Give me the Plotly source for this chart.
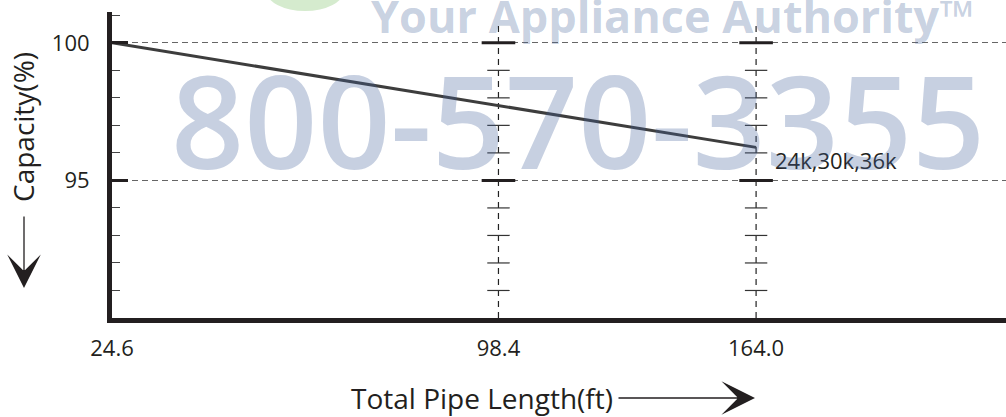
import plotly.graph_objects as go

# Pipe-length ticks (ft) and their slot on the schematic x axis
pipe_length_labels = ["24.6", "98.4", "164.0"]
pipe_length_slots = [0, 3, 5]

# Capacity correction for the 24k/30k/36k models
line_lengths = ["24.6", "164.0"]
capacity_pct = [100.0, 96.2]
series_label = "24k,30k,36k"

# Capacity ticks (%)
major_capacity = [95, 100]
minor_capacity = [91, 92, 93, 94, 96, 97, 98, 99]

INK = "#231f20"
FONT = "Open Sans"
MARK = "rgba(70,100,155,0.30)"
W, H = 1006, 417
M_L, M_R, M_T, M_B = 112, 0, 12, 99
PW, PH = W - M_L - M_R, H - M_T - M_B


def px_x(px):
    return (px - M_L) / PW


def px_y(py):
    return (H - M_B - py) / PH


slot_of = dict(zip(pipe_length_labels, pipe_length_slots))
line_x = [slot_of[v] for v in line_lengths]
grid_slots = [s for s in pipe_length_slots if s != 0]

fig = go.Figure()

# vertical dashed guides at the marked pipe lengths
for s in grid_slots:
    fig.add_shape(type="line", xref="x", yref="y", x0=s, x1=s, y0=90, y1=100.65,
                  line=dict(color="#222222", width=1.2, dash="6px,5px"), layer="below")

# small cross ticks along each vertical guide
fig.add_trace(go.Scatter(
    x=[s for s in grid_slots for _ in minor_capacity],
    y=[c for _ in grid_slots for c in minor_capacity],
    mode="markers", hoverinfo="skip", showlegend=False,
    marker=dict(symbol="line-ew", size=16, line=dict(width=1.2, color="#333333")),
))
fig.add_trace(go.Scatter(
    x=[s for s in grid_slots for _ in major_capacity],
    y=[c for _ in grid_slots for c in major_capacity],
    mode="markers", hoverinfo="skip", showlegend=False,
    marker=dict(symbol="line-ew", size=24, line=dict(width=3, color=INK)),
))

# capacity line
fig.add_trace(go.Scatter(
    x=line_x, y=capacity_pct, mode="lines", showlegend=False,
    line=dict(color="#3d3d3d", width=3),
))

fig.add_annotation(x=line_x[-1], y=capacity_pct[-1], xref="x", yref="y",
                   text=series_label, showarrow=False, xanchor="left", yanchor="middle",
                   xshift=17, yshift=-13, font=dict(family=FONT, size=22, color=INK))

# axis titles with arrows
fig.add_annotation(x=px_x(23), y=px_y(127), xref="paper", yref="paper",
                   text="Capacity(%)", textangle=-90, showarrow=False,
                   xanchor="center", yanchor="middle",
                   font=dict(family=FONT, size=28, color=INK))
fig.add_annotation(x=px_x(24), y=px_y(288), xref="paper", yref="paper",
                   text="", showarrow=True, ax=0, ay=-73, arrowhead=3,
                   arrowsize=4.3, arrowwidth=1.3, arrowcolor=INK)
fig.add_annotation(x=px_x(482), y=px_y(398), xref="paper", yref="paper",
                   text="Total Pipe Length(ft)", showarrow=False,
                   xanchor="center", yanchor="middle",
                   font=dict(family=FONT, size=28, color=INK))
fig.add_annotation(x=px_x(755), y=px_y(398), xref="paper", yref="paper",
                   text="", showarrow=True, ax=-138, ay=0, arrowhead=3,
                   arrowsize=4.3, arrowwidth=1.3, arrowcolor=INK)

# watermark
fig.add_shape(type="circle", xref="paper", yref="paper",
              x0=px_x(266), x1=px_x(344), y0=px_y(11), y1=px_y(-30),
              fillcolor="#d5ebce", line=dict(width=0), layer="above")
fig.add_annotation(x=px_x(672), y=px_y(16), xref="paper", yref="paper",
                   text="<b>Your Appliance Authority™</b>", showarrow=False,
                   xanchor="center", yanchor="middle",
                   font=dict(family=FONT, size=45, color=MARK))
fig.add_annotation(x=px_x(578), y=px_y(120), xref="paper", yref="paper",
                   text="800-570-3355", showarrow=False,
                   xanchor="center", yanchor="middle",
                   font=dict(family=FONT, size=128, weight=600, color=MARK))

fig.update_layout(
    width=W, height=H,
    margin=dict(l=M_L, r=M_R, t=M_T, b=M_B, pad=0),
    paper_bgcolor="white", plot_bgcolor="white",
    font=dict(family=FONT, size=22, color=INK),
    xaxis=dict(range=[0, 6.94], tickvals=pipe_length_slots, ticktext=pipe_length_labels,
               showgrid=False, zeroline=False, ticks="", showline=True,
               linewidth=5, linecolor=INK, tickfont=dict(size=22, color=INK),
               ticklabelstandoff=7),
    yaxis=dict(range=[90, 101.12], tickvals=major_capacity, ticks="inside",
               ticklen=16, tickwidth=3, tickcolor=INK, showgrid=True,
               gridcolor="#666666", gridwidth=1, griddash="6px,4px",
               zeroline=False, showline=True, linewidth=5, linecolor=INK,
               tickfont=dict(size=22, color=INK), ticklabelstandoff=13,
               minor=dict(dtick=1, tick0=90, ticks="inside", ticklen=8,
                          tickwidth=1, tickcolor="#444444", showgrid=False)),
)

fig.write_html("out.html")
